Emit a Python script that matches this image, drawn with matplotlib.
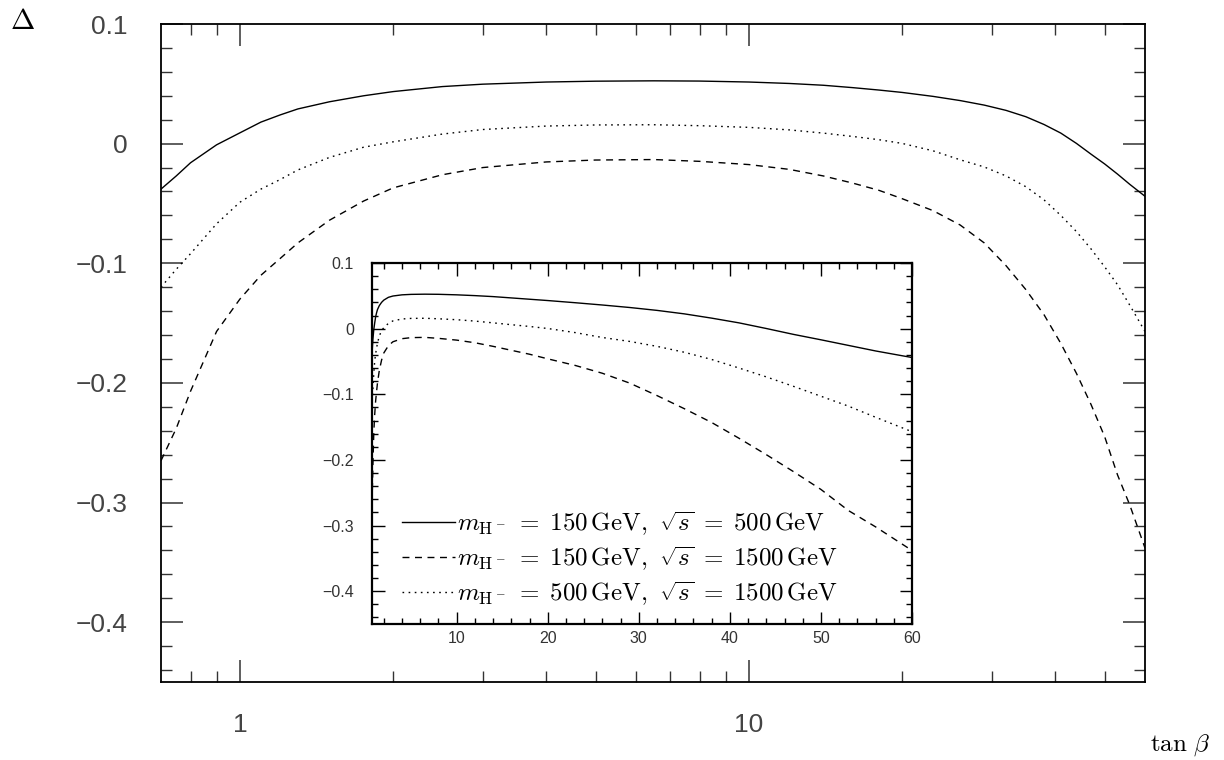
import numpy as np
import matplotlib
matplotlib.use("Agg")
import matplotlib.pyplot as plt
from matplotlib.ticker import FixedLocator, MultipleLocator, NullFormatter, FixedFormatter

plt.rcParams['mathtext.fontset'] = 'cm'
plt.rcParams['font.family'] = ['Liberation Sans', 'DejaVu Sans']

# ---------------- data ----------------
tan_beta = [0.7, 0.75, 0.8, 0.9, 1.0, 1.1, 1.2, 1.3, 1.5, 1.75, 2.0, 2.5, 3.0, 4.0, 5.0,
            6.5, 8.0, 10, 12, 14, 16, 18, 20, 23, 26, 29, 32, 35, 38, 41, 44, 47,
            50, 53, 56, 60]

delta_150_500 = [-0.038, -0.027, -0.016, -0.001, 0.009, 0.018, 0.024, 0.029, 0.035, 0.040,
                 0.0435, 0.0477, 0.0497, 0.0515, 0.0522, 0.0525, 0.0523, 0.0515, 0.0503,
                 0.0488, 0.0468, 0.0448, 0.0428, 0.0395, 0.036, 0.0322, 0.0278, 0.0225,
                 0.016, 0.0088, 0.0002, -0.0088, -0.017, -0.0255, -0.034, -0.044]

delta_150_1500 = [-0.265, -0.238, -0.207, -0.157, -0.130, -0.110, -0.096, -0.083, -0.064,
                  -0.048, -0.037, -0.026, -0.020, -0.0153, -0.0137, -0.0133, -0.0148,
                  -0.0175, -0.0215, -0.027, -0.033, -0.039, -0.046, -0.056, -0.068,
                  -0.083, -0.102, -0.122, -0.143, -0.167, -0.192, -0.218, -0.245,
                  -0.277, -0.302, -0.338]

delta_500_1500 = [-0.120, -0.105, -0.092, -0.067, -0.049, -0.038, -0.030, -0.022, -0.0115,
                  -0.003, 0.0015, 0.008, 0.0118, 0.0147, 0.0156, 0.0158, 0.015, 0.0136,
                  0.0115, 0.0088, 0.006, 0.0033, 0.0002, -0.006, -0.0135, -0.0195, -0.027,
                  -0.036, -0.047, -0.060, -0.0735, -0.088, -0.103, -0.118, -0.135, -0.157]

labels = [r'$m_{\mathrm{H}^-}\; =\; 150\,\mathrm{GeV},\ \sqrt{s}\; =\; 500\,\mathrm{GeV}$',
          r'$m_{\mathrm{H}^-}\; =\; 150\,\mathrm{GeV},\ \sqrt{s}\; =\; 1500\,\mathrm{GeV}$',
          r'$m_{\mathrm{H}^-}\; =\; 500\,\mathrm{GeV},\ \sqrt{s}\; =\; 1500\,\mathrm{GeV}$']

main_xticks = [1, 10]
main_xticklabels = ['1', '10']
yticks = [-0.4, -0.3, -0.2, -0.1, 0.0, 0.1]
yticklabels = ['\u22120.4', '\u22120.3', '\u22120.2', '\u22120.1', '0', '0.1']
inset_xticks = [10, 20, 30, 40, 50, 60]
inset_xticklabels = ['10', '20', '30', '40', '50', '60']

series = [delta_150_500, delta_150_1500, delta_500_1500]
styles = ['-', (0, (5, 4)), (0, (1.2, 3.2))]

# ---------------- figure ----------------
fig = plt.figure(figsize=(12.24, 7.6), dpi=100)
W, H = 1224, 760

def axes_px(l, t, r, b):
    return [l / W, 1 - b / H, (r - l) / W, (b - t) / H]

ax = fig.add_axes(axes_px(161, 24, 1145, 682))
for ys, ls in zip(series, styles):
    ax.plot(tan_beta, ys, color='black', lw=1.0, linestyle=ls)
ax.set_xscale('log')
ax.set_xlim(0.7, 60)
ax.set_ylim(-0.45, 0.1)
ax.xaxis.set_major_locator(FixedLocator(main_xticks))
ax.xaxis.set_major_formatter(FixedFormatter(main_xticklabels))
ax.xaxis.set_minor_locator(FixedLocator([0.8, 0.9, 2, 3, 4, 5, 6, 7, 8, 9, 20, 30, 40, 50]))
ax.xaxis.set_minor_formatter(NullFormatter())
ax.yaxis.set_major_locator(FixedLocator(yticks))
ax.yaxis.set_major_formatter(FixedFormatter(yticklabels))
ax.yaxis.set_minor_locator(MultipleLocator(0.02))
ax.tick_params(which='both', direction='in', top=True, right=True, color='#333333')
ax.tick_params(which='major', length=16, width=1.1, labelsize=19, labelcolor='#444444')
ax.tick_params(which='minor', length=8, width=1.0)
ax.tick_params(axis='y', which='major', pad=24)
ax.tick_params(axis='x', which='major', pad=22)
for s in ax.spines.values():
    s.set_linewidth(1.3)

fig.text(22 / W, 1 - 21 / H, r'$\Delta$', fontsize=21, ha='center', va='center')
fig.text(1180 / W, 1 - 745 / H, r'$\tan\,\beta$', fontsize=18, ha='center', va='center')

# ---------------- inset ----------------
axi = fig.add_axes(axes_px(372, 263, 912, 624))
for ys, ls, lab in zip(series, styles, labels):
    axi.plot(tan_beta, ys, color='black', lw=1.0, linestyle=ls, label=lab)
axi.set_xlim(0.7, 60)
axi.set_ylim(-0.45, 0.1)
axi.xaxis.set_major_locator(FixedLocator(inset_xticks))
axi.xaxis.set_major_formatter(FixedFormatter(inset_xticklabels))
axi.xaxis.set_minor_locator(MultipleLocator(2))
axi.yaxis.set_major_locator(FixedLocator(yticks))
axi.yaxis.set_major_formatter(FixedFormatter(yticklabels))
axi.yaxis.set_minor_locator(MultipleLocator(0.02))
axi.tick_params(which='both', direction='in', top=True, right=True)
axi.tick_params(which='major', length=9, width=1.0, labelsize=11.5, labelcolor='#333333')
axi.tick_params(which='minor', length=4.5, width=1.0)
axi.tick_params(axis='y', which='major', pad=13)
axi.tick_params(axis='x', which='major', pad=5)
for s in axi.spines.values():
    s.set_linewidth(1.6)

axi.legend(loc='lower left', bbox_to_anchor=(0.056, 0.045), frameon=False,
           fontsize=18, handlelength=2.1, handletextpad=0.1, labelspacing=0.28,
           borderpad=0, borderaxespad=0)

fig.savefig('out.png', dpi=100)
